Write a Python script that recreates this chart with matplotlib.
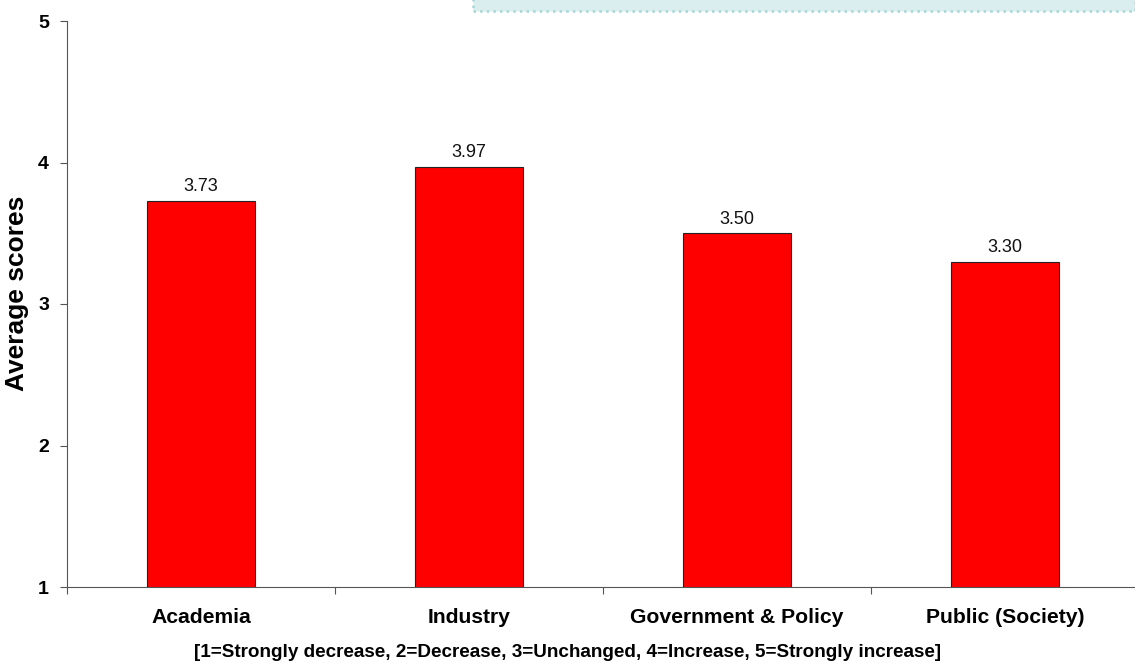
import matplotlib
matplotlib.use("Agg")
from matplotlib import pyplot as plt
from matplotlib.patches import Rectangle

plt.rcParams['font.family'] = ['Liberation Sans', 'DejaVu Sans']

categorias = ["Academia", "Industry", "Government & Policy", "Public (Society)"]
medias = [3.73, 3.97, 3.50, 3.30]
escala = "[1=Strongly decrease, 2=Decrease, 3=Unchanged, 4=Increase, 5=Strongly increase]"

W, H = 1135, 665
fig = plt.figure(figsize=(W / 100, H / 100), dpi=100)
ax = fig.add_axes([67 / W, 1 - 587 / H, 1072 / W, 566 / H])

x = range(len(categorias))
# barras a partir de 1 (base da escala)
ax.bar(x, [m - 1 for m in medias], bottom=1, width=0.4, color="#FF0000",
       edgecolor="#222222", linewidth=0.8, zorder=3)
for i, m in zip(x, medias):
    ax.annotate(f"{m:.2f}", (i, m), xytext=(0, 7), textcoords="offset points",
                ha="center", va="baseline", fontsize=13, color="#111111")

ax.set_xlim(-0.5, len(categorias) - 0.5)
ax.set_ylim(1, 5)
ax.set_yticks([1, 2, 3, 4, 5])
ax.set_yticklabels(["1", "2", "3", "4", "5"], fontsize=14, fontweight="bold")
ax.set_xticks([i - 0.5 for i in range(len(categorias) + 1)], minor=False)
ax.set_xticklabels([])
ax.set_xticks(list(x), minor=True)
ax.set_xticklabels(categorias, minor=True, fontsize=15.2, fontweight="bold")
ax.tick_params(axis="x", which="minor", length=0, pad=15)
ax.tick_params(axis="x", which="major", length=5, direction="out", color="#555555")
ax.tick_params(axis="y", length=5, direction="out", color="#555555", pad=8)

for s in ["top", "right"]:
    ax.spines[s].set_visible(False)
ax.spines["left"].set_color("#555555")
ax.spines["bottom"].set_color("#555555")

fig.text(17 / W, 1 - 293 / H, "Average scores", rotation=90, ha="center", va="center",
         fontsize=19, fontweight="bold")
fig.text(567 / W, 1 - 657 / H, escala, ha="center", va="baseline",
         fontsize=13.6, fontweight="bold")

# caixa azul no topo
fig.patches.append(Rectangle((473 / W, 1 - 11 / H), 1 - 473 / W, 0.03,
                             transform=fig.transFigure, facecolor="#DAEEF0",
                             edgecolor="#A6D6D6", linestyle=":", linewidth=1.8))

fig.savefig("out.png", dpi=100)
